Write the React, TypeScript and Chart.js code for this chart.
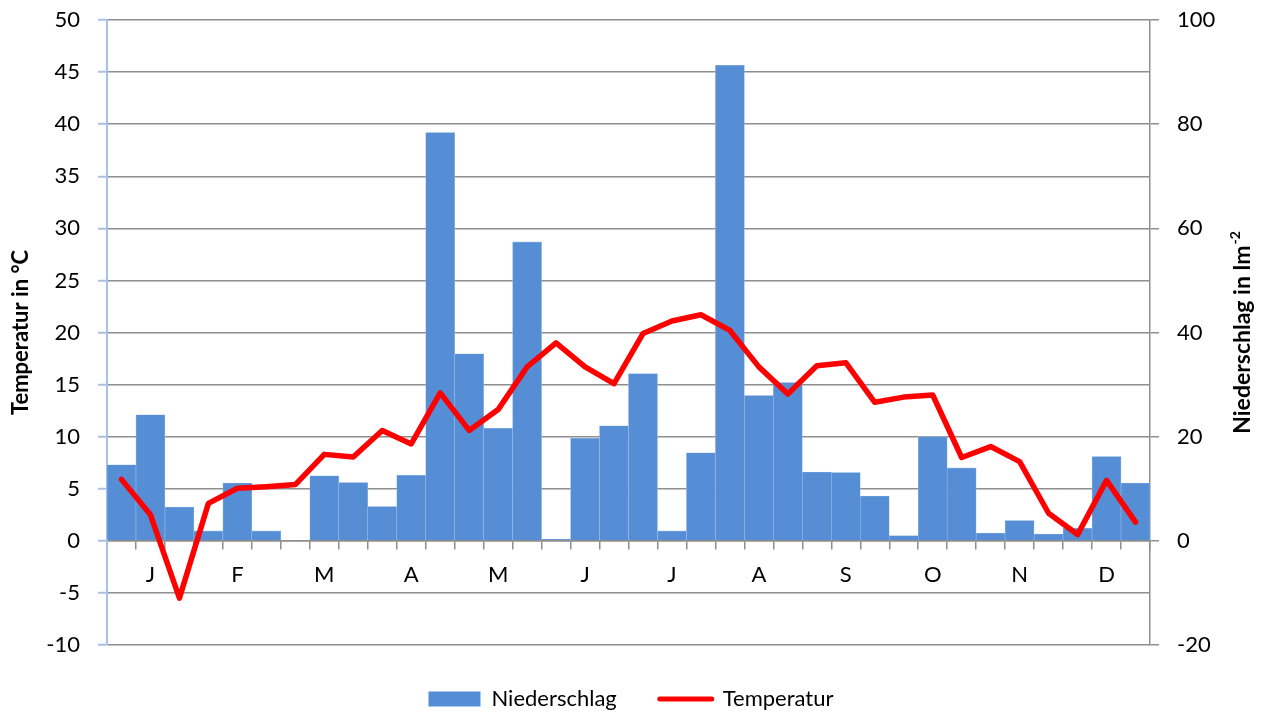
import { useEffect, useRef } from 'react';
import { Chart, registerables } from 'chart.js';

Chart.register(...registerables);

// 36 dekads (3 per month); month letter sits under the middle dekad
const categories = [
  '', 'J', '', '', 'F', '', '', 'M', '', '', 'A', '',
  '', 'M', '', '', 'J', '', '', 'J', '', '', 'A', '',
  '', 'S', '', '', 'O', '', '', 'N', '', '', 'D', '',
];

// Niederschlag in l/m² (right axis)
const niederschlag = [
  14.6, 24.2, 6.5, 1.9, 11.1, 1.9, 0, 12.5, 11.2, 6.6, 12.6, 78.4,
  35.9, 21.6, 57.4, 0.3, 19.7, 22.1, 32.1, 1.9, 16.9, 91.3, 27.9, 30.4,
  13.2, 13.1, 8.6, 1.0, 20.0, 14.0, 1.5, 3.9, 1.3, 2.4, 16.2, 11.1,
];

// Temperatur in °C (left axis)
const temperatur = [
  5.9, 2.5, -5.5, 3.6, 5.05, 5.2, 5.4, 8.3, 8.05, 10.6, 9.3, 14.2,
  10.6, 12.6, 16.7, 19.0, 16.7, 15.1, 19.9, 21.1, 21.7, 20.2, 16.7, 14.1,
  16.8, 17.1, 13.3, 13.8, 14.0, 8.0, 9.05, 7.6, 2.65, 0.6, 5.8, 1.8,
];

const LEFT_TITLE = 'Temperatur in °C';
const RIGHT_TITLE_MAIN = 'Niederschlag in lm';
const RIGHT_TITLE_SUP = '-2';

const BAR_COLOR = '#558ed5';
const LINE_COLOR = '#ff0000';
const GRID_COLOR = '#8e8e8e';
const LEFT_AXIS_COLOR = '#a7c0e7';
const FONT_FAMILY = 'Lato, "Open Sans", sans-serif';

// draws the right axis title reading bottom-to-top (like the left one)
const rightTitlePlugin = {
  id: 'rightTitle',
  afterDraw(chart: any) {
    const { ctx, chartArea } = chart;
    const cy = (chartArea.top + chartArea.bottom) / 2;
    const cx = 1243;
    ctx.save();
    ctx.translate(cx, cy);
    ctx.rotate(-Math.PI / 2);
    ctx.fillStyle = '#000';
    ctx.textBaseline = 'middle';
    ctx.textAlign = 'left';
    ctx.font = `bold 23px ${FONT_FAMILY}`;
    const wMain = ctx.measureText(RIGHT_TITLE_MAIN).width;
    ctx.font = `bold 14px ${FONT_FAMILY}`;
    const wSup = ctx.measureText(RIGHT_TITLE_SUP).width;
    const total = wMain + wSup + 1;
    ctx.font = `bold 23px ${FONT_FAMILY}`;
    ctx.fillText(RIGHT_TITLE_MAIN, -total / 2, 0);
    ctx.font = `bold 14px ${FONT_FAMILY}`;
    ctx.fillText(RIGHT_TITLE_SUP, -total / 2 + wMain + 1, -8);
    ctx.restore();
  },
};

export default function App() {
  const ref = useRef<HTMLCanvasElement>(null);

  useEffect(() => {
    if (!ref.current) return;
    const tickFont = { family: FONT_FAMILY, size: 22 };
    const titleFont = { family: FONT_FAMILY, size: 22, weight: 'bold' as const };
    const chart = new Chart(ref.current, {
      type: 'bar',
      plugins: [rightTitlePlugin],
      data: {
        labels: categories,
        datasets: [
          {
            type: 'line',
            label: 'Temperatur',
            data: temperatur,
            yAxisID: 'y',
            borderColor: LINE_COLOR,
            backgroundColor: LINE_COLOR,
            borderWidth: 5.5,
            pointRadius: 0,
            pointHoverRadius: 0,
            tension: 0,
            borderJoinStyle: 'round',
            borderCapStyle: 'round',
            order: 0,
          },
          {
            type: 'bar',
            label: 'Niederschlag',
            data: niederschlag,
            yAxisID: 'y2',
            backgroundColor: BAR_COLOR,
            borderColor: '#9dbbe6',
            borderWidth: 0.6,
            categoryPercentage: 1,
            barPercentage: 1,
            order: 1,
          },
        ],
      },
      options: {
        animation: false,
        responsive: false,
        devicePixelRatio: 1,
        layout: { padding: { top: 20, left: 0, right: 0, bottom: -7 } },
        plugins: {
          tooltip: { enabled: false },
          title: { display: false },
          legend: {
            display: true,
            position: 'bottom',
            labels: {
              font: tickFont,
              color: '#000',
              usePointStyle: true,
              pointStyleWidth: 52,
              boxHeight: 15,
              padding: 43,
              generateLabels: () => [
                {
                  text: 'Niederschlag',
                  fillStyle: BAR_COLOR,
                  strokeStyle: BAR_COLOR,
                  lineWidth: 0,
                  pointStyle: 'rect',
                  datasetIndex: 1,
                  hidden: false,
                },
                {
                  text: 'Temperatur',
                  fillStyle: LINE_COLOR,
                  strokeStyle: LINE_COLOR,
                  lineWidth: 5,
                  lineCap: 'round',
                  pointStyle: 'line',
                  datasetIndex: 0,
                  hidden: false,
                },
              ],
            },
          },
        },
        scales: {
          x: {
            type: 'category',
            position: { y: 0 },
            offset: true,
            grid: {
              offset: true,
              drawOnChartArea: false,
              drawTicks: true,
              tickLength: 8,
              color: GRID_COLOR,
              lineWidth: 1.5,
            },
            border: { display: true, color: GRID_COLOR, width: 1.5 },
            ticks: {
              autoSkip: false,
              maxRotation: 0,
              minRotation: 0,
              padding: 13,
              color: '#000',
              font: tickFont,
            },
          },
          y: {
            type: 'linear',
            position: 'left',
            min: -10,
            max: 50,
            ticks: { stepSize: 5, padding: 18, color: '#000', font: tickFont },
            grid: {
              color: GRID_COLOR,
              lineWidth: 1.5,
              tickLength: 9,
              tickColor: LEFT_AXIS_COLOR,
              tickWidth: 2,
            },
            border: { display: true, color: LEFT_AXIS_COLOR, width: 2 },
            title: {
              display: true,
              text: LEFT_TITLE,
              color: '#000',
              font: titleFont,
              padding: { top: 8, bottom: 0 },
            },
            afterFit: (s: any) => {
              s.width = 107;
              s.paddingTop = 0;
              s.paddingBottom = 0;
            },
          },
          y2: {
            type: 'linear',
            position: 'right',
            min: -20,
            max: 100,
            ticks: { stepSize: 20, padding: 18, color: '#000', font: tickFont },
            grid: {
              drawOnChartArea: false,
              tickLength: 9,
              color: GRID_COLOR,
              lineWidth: 1.5,
            },
            border: { display: true, color: GRID_COLOR, width: 1.5 },
            title: { display: false },
            afterFit: (s: any) => {
              s.width = 112;
              s.paddingTop = 0;
              s.paddingBottom = 0;
            },
          },
        },
      },
    });
    return () => chart.destroy();
  }, []);

  return (
    <div
      style={{
        position: 'absolute',
        left: 0,
        top: 0,
        width: 1262,
        height: 713,
        background: '#ffffff',
      }}
    >
      <canvas ref={ref} width={1262} height={713} style={{ display: 'block' }} />
    </div>
  );
}
